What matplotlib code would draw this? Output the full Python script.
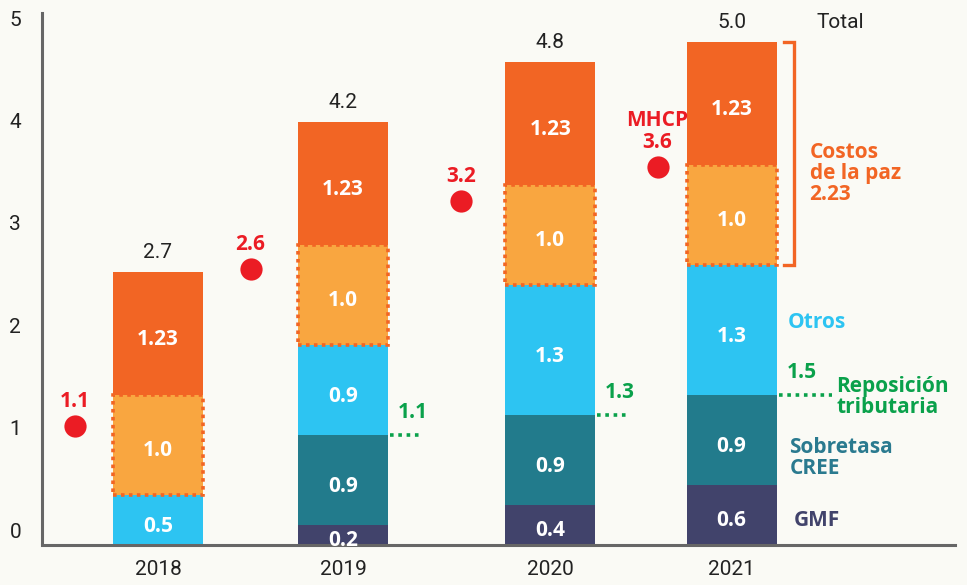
import matplotlib
matplotlib.use("Agg")
import matplotlib.pyplot as plt
import matplotlib.transforms as mtransforms
import numpy as np

# ---------------- data ----------------
years = ["2018", "2019", "2020", "2021"]
gmf = [0.0, 0.2, 0.4, 0.6]
sobretasa = [0.0, 0.9, 0.9, 0.9]
otros = [0.5, 0.9, 1.3, 1.3]
paz_a = [1.0, 1.0, 1.0, 1.0]
paz_b = [1.23, 1.23, 1.23, 1.23]
totals = ["2.7", "4.2", "4.8", "5.0"]
mhcp_labels = ["1.1", "2.6", "3.2", "3.6"]
mhcp_values = [1.19, 2.76, 3.44, 3.78]
reposicion_labels = [None, "1.1", "1.3", "1.5"]
yticks = [0, 1, 2, 3, 4, 5]

# ---------------- style ----------------
C_PAZB = "#F26524"
C_PAZA = "#F9A640"
C_OTROS = "#2DC4F2"
C_SOBRE = "#227B8C"
C_GMF = "#41436B"
C_RED = "#EB1C24"
C_GREEN = "#0AA14B"
C_AXIS = "#666666"
BG = "#FAFAF5"

plt.rcParams["font.family"] = ["Roboto", "DejaVu Sans"]
BOLD = ["Open Sans", "DejaVu Sans"]
BS = 15  # bold label size

fig = plt.figure(figsize=(9.67, 5.85), dpi=100, facecolor=BG)
ax = fig.add_axes([42 / 967, 40 / 585, 913 / 967, 532 / 585], facecolor=BG)

unit = 185.0  # px per x unit
x = np.array([0.0, 1.0, 2.12, 3.1])
mhcp_x = np.array([-0.45, 0.5, 1.64, 2.7])
w = 90 / unit

ax.set_xlim(-116 / unit, 797 / unit)
ax.set_ylim(0, 5.32)

series = [
    (gmf, C_GMF, False),
    (sobretasa, C_SOBRE, False),
    (otros, C_OTROS, False),
    (paz_a, C_PAZA, True),
    (paz_b, C_PAZB, False),
]
bottom = np.zeros(4)
for vals, col, dotted in series:
    vals = np.array(vals)
    for i in range(4):
        if vals[i] <= 0:
            continue
        if dotted:
            ax.bar(x[i], vals[i], w, bottom=bottom[i], color=col,
                   edgecolor=C_PAZB, linewidth=2.6, linestyle=(0, (1, 1.2)), zorder=3)
        else:
            ax.bar(x[i], vals[i], w, bottom=bottom[i], color=col,
                   linewidth=0, zorder=2)
        lab = f"{vals[i]:.2f}".rstrip("0") if vals[i] != round(vals[i], 1) else f"{vals[i]:.1f}"
        ax.text(x[i], bottom[i] + vals[i] / 2 - 0.06, lab, ha="center", va="center",
                color="white", fontsize=BS, fontweight="bold", family=BOLD, zorder=4)
    bottom = bottom + vals

# totals
for i in range(4):
    ax.annotate(totals[i], (x[i], bottom[i]), xytext=(0, 7), textcoords="offset points",
                ha="center", va="bottom", fontsize=15, color="#222222")
ax.annotate("Total", (x[3], bottom[3]), xytext=(109 / 1.389, 7), textcoords="offset points",
            ha="center", va="bottom", fontsize=15, color="#222222")

# MHCP dots
ax.plot(mhcp_x, mhcp_values, "o", color=C_RED, markersize=16, markeredgewidth=0, zorder=5)
for i in range(4):
    txt = mhcp_labels[i] if i < 3 else "MHCP\n" + mhcp_labels[i]
    ax.annotate(txt, (mhcp_x[i], mhcp_values[i]), xytext=(0, 10), textcoords="offset points",
                ha="center", va="bottom", fontsize=BS, fontweight="bold", color=C_RED,
                family=BOLD, linespacing=1.05)

# reposicion tributaria dotted lines
right_edges = x + w / 2
for i in range(4):
    if reposicion_labels[i] is None:
        continue
    yv = gmf[i] + sobretasa[i]
    length = (30 if i < 3 else 53) / unit
    ax.plot([right_edges[i] + 2 / unit, right_edges[i] + 2 / unit + length], [yv, yv],
            color=C_GREEN, linewidth=2.6, linestyle=(0, (1, 1.3)), zorder=3)
    ax.text(right_edges[i] + 25 / unit, yv + 0.23, reposicion_labels[i], ha="center",
            va="center", fontsize=BS, fontweight="bold", color=C_GREEN, family=BOLD)

# right side annotations
xr = right_edges[3]
top21 = bottom[3]
low21 = gmf[3] + sobretasa[3] + otros[3]
bx0, bx1 = xr + 7 / unit, xr + 17 / unit
ax.plot([bx0, bx1, bx1, bx0], [top21, top21, low21, low21], color=C_PAZB,
        linewidth=2.4, solid_joinstyle="miter", zorder=3)
ax.text(xr + 33 / unit, 3.71, "Costos\nde la paz\n2.23", ha="left", va="center",
        fontsize=BS, fontweight="bold", color=C_PAZB, family=BOLD, linespacing=1.0)
ax.text(xr + 11 / unit, 2.22, "Otros", ha="left", va="center", fontsize=BS,
        fontweight="bold", color=C_OTROS, family=BOLD)
ax.text(xr + 60 / unit, 1.48, "Reposición\ntributaria", ha="left", va="center",
        fontsize=BS, fontweight="bold", color=C_GREEN, family=BOLD, linespacing=0.95)
ax.text(xr + 13 / unit, 0.87, "Sobretasa\nCREE", ha="left", va="center",
        fontsize=BS, fontweight="bold", color="#2A7A8F", family=BOLD, linespacing=0.95)
ax.text(xr + 17 / unit, 0.25, "GMF", ha="left", va="center", fontsize=BS,
        fontweight="bold", color=C_GMF, family=BOLD)

# axes styling
for s in ["top", "right"]:
    ax.spines[s].set_visible(False)
ax.spines["left"].set_color(C_AXIS)
ax.spines["bottom"].set_color(C_AXIS)
ax.spines["left"].set_linewidth(2.2)
ax.spines["bottom"].set_linewidth(2.2)
ax.spines["left"].set_bounds(0.02, 5.32)

ax.set_xticks(x)
ax.set_xticklabels(years, fontsize=15, color="#222222")
ax.set_yticks(yticks)
ax.set_yticklabels([str(v) for v in yticks], fontsize=15, color="#222222")
ax.tick_params(axis="both", length=0)
ax.tick_params(axis="x", pad=11)
ax.tick_params(axis="y", pad=15)
for v, lab in zip(yticks, ax.get_yticklabels()):
    off = mtransforms.ScaledTranslation(0, (15 + 2.4 * v) / 100, fig.dpi_scale_trans)
    lab.set_transform(lab.get_transform() + off)

fig.savefig("out.png", dpi=100, facecolor=BG)
